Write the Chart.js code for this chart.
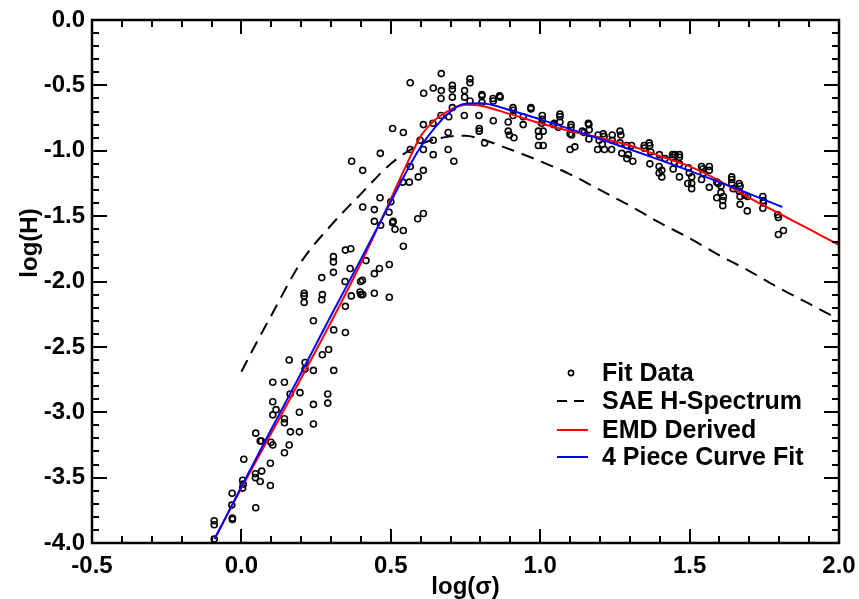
<!DOCTYPE html>
<html>
<head>
<meta charset="utf-8">
<script src="https://cdn.jsdelivr.net/npm/chart.js@4.4.0/dist/chart.umd.min.js"></script>
<style>
  html, body { margin: 0; padding: 0; background: #fff; }
  #wrap { width: 859px; height: 599px; }
</style>
</head>
<body>
<div id="wrap"><canvas id="chart" width="859" height="599"></canvas></div>
<script>
// ---- data (log10 sigma, log10 H) ----
const fitX = [
  -0.091, -0.091, -0.091, -0.030, -0.030, -0.032, -0.031, 0.048, 0.004, 0.004,
  0.006, 0.008, 0.047, 0.047, 0.063, 0.068, 0.097, 0.097, 0.048, 0.063,
  0.067, 0.099, 0.105, 0.144, 0.160, 0.164, 0.194, 0.144, 0.144, 0.105,
  0.116, 0.105, 0.194, 0.241, 0.241, 0.289, 0.289, 0.163, 0.196, 0.105,
  0.144,
  0.160, 0.213, 0.213, 0.241, 0.309, 0.271, 0.292, 0.241, 0.309, 0.348,
  0.348, 0.368, 0.397, 0.400, 0.406, 0.445, 0.495, 0.210, 0.210, 0.210,
  0.271, 0.269, 0.269, 0.308, 0.308, 0.308, 0.348, 0.366, 0.364, 0.347,
  0.399, 0.405, 0.417, 0.445, 0.462, 0.495, 0.542, 0.542, 0.514, 0.506,
  0.508, 0.445, 0.466, 0.494, 0.406, 0.445, 0.500, 0.590, 0.609, 0.464,
  0.669, 0.565, 0.642, 0.669, 0.610, 0.706, 0.706, 0.668, 0.706, 0.765,
  0.765, 0.747, 0.747, 0.805, 0.805, 0.842, 0.843, 0.864, 0.866, 0.909,
  0.805, 0.765, 0.706, 0.668, 0.694, 0.746, 0.795, 0.843, 0.893, 0.909,
  0.609, 0.641, 0.506, 0.542, 0.692, 0.796, 0.796, 0.893, 0.897, 0.912,
  0.642, 0.598, 0.609, 0.565, 0.814, 0.465, 0.642, 0.692, 0.711, 0.565,
  0.609, 0.592, 0.540, 0.562, 0.369, 0.406,
  0.910, 0.943, 0.943, 0.969, 0.969, 1.007, 1.007, 1.005, 0.994, 1.010,
  0.996, 0.994, 1.010, 1.044, 1.047, 1.061, 1.066, 1.066, 1.066, 1.103,
  1.103, 1.100, 1.105, 1.100, 1.116, 1.141, 1.147, 1.161, 1.163, 1.164,
  1.163, 1.194, 1.197, 1.211, 1.214, 1.208, 1.192, 1.215, 1.241, 1.241,
  1.267, 1.270, 1.267, 1.239, 1.273, 1.290, 1.295, 1.290, 1.306, 1.310,
  1.348, 1.365, 1.348, 1.367, 1.370, 1.367, 1.398, 1.398,
  1.399, 1.407, 1.407, 1.418, 1.443, 1.451, 1.466, 1.443, 1.466, 1.449,
  1.466, 1.445, 1.466, 1.496, 1.499, 1.507, 1.494, 1.507, 1.507, 1.540,
  1.544, 1.566, 1.566, 1.546, 1.540, 1.566, 1.591, 1.596, 1.605, 1.605,
  1.613, 1.591, 1.611, 1.611, 1.641, 1.641, 1.641, 1.666, 1.669, 1.646,
  1.666, 1.669, 1.685, 1.694, 1.669, 1.693, 1.745, 1.747, 1.747, 1.745,
  1.795, 1.797, 1.814, 1.797
];
const fitY = [
  -3.97, -3.83, -3.86, -3.81, -3.82, -3.71, -3.62, -3.73, -3.52, -3.58,
  -3.55, -3.36, -3.47, -3.50, -3.53, -3.45, -3.56, -3.39, -3.16, -3.22,
  -3.22, -3.23, -3.25, -3.31, -3.25, -3.15, -3.15, -3.05, -3.08, -3.02,
  -2.98, -2.92, -3.00, -2.94, -3.09, -2.86, -2.93, -2.86, -2.85, -2.77,
  -2.77,
  -2.60, -2.62, -2.67, -2.68, -2.68, -2.56, -2.52, -2.30, -2.37, -2.39,
  -2.19, -2.11, -2.08, -2.10, -2.10, -2.09, -2.12, -2.09, -2.11, -2.16,
  -2.10, -2.14, -1.97, -1.81, -1.85, -1.93, -1.76, -1.75, -1.90, -2.00,
  -2.00, -1.99, -1.84, -1.94, -1.90, -1.87, -1.73, -1.61, -1.60, -1.55,
  -1.54, -1.54, -1.57, -1.47, -1.43, -1.45, -1.39, -1.52, -1.48, -1.36,
  -0.41, -0.48, -0.52, -0.54, -0.56, -0.50, -0.53, -0.60, -0.59, -0.45,
  -0.48, -0.54, -0.59, -0.57, -0.58, -0.60, -0.62, -0.58, -0.59, -0.67,
  -0.63, -0.62, -0.67, -0.73, -0.74, -0.73, -0.73, -0.77, -0.78, -0.73,
  -0.80, -0.79, -0.83, -0.86, -0.86, -0.83, -0.85, -0.85, -0.88, -0.90,
  -0.92, -0.92, -0.99, -0.99, -0.94, -1.02, -1.03, -0.99, -1.08, -1.12,
  -1.15, -1.20, -1.24, -1.24, -1.08, -1.15,
  -0.69, -0.80, -0.74, -0.67, -0.68, -0.73, -0.76, -0.79, -0.85, -0.85,
  -0.89, -0.96, -0.96, -0.80, -0.79, -0.82, -0.72, -0.74, -0.78, -0.80,
  -0.82, -0.87, -0.88, -0.99, -0.97, -0.85, -0.86, -0.79, -0.80, -0.84,
  -0.91, -0.88, -0.92, -0.87, -0.89, -0.95, -0.99, -0.99, -0.88, -0.92,
  -0.85, -0.88, -0.94, -0.99, -1.02, -0.96, -1.03, -1.06, -0.96, -1.08,
  -0.96, -0.94, -0.98, -0.96, -1.01, -1.10, -1.12, -1.17,
  -1.03, -1.15, -1.20, -1.06, -1.03, -1.03, -1.03, -1.05, -1.05, -1.09,
  -1.10, -1.14, -1.20, -1.13, -1.17, -1.20, -1.25, -1.25, -1.29, -1.12,
  -1.14, -1.12, -1.15, -1.17, -1.22, -1.28, -1.24, -1.25, -1.27, -1.32,
  -1.35, -1.36, -1.38, -1.42, -1.20, -1.22, -1.25, -1.25, -1.27, -1.29,
  -1.31, -1.35, -1.34, -1.35, -1.41, -1.46, -1.35, -1.38, -1.40, -1.44,
  -1.49, -1.51, -1.61, -1.64
];

// SAE H-Spectrum (dashed)
const saeX = [0.0, 0.05, 0.1, 0.2, 0.3, 0.4, 0.5, 0.6, 0.7, 0.75, 0.8, 0.9, 1.0,
              1.1, 1.2, 1.3, 1.4, 1.5, 1.6, 1.7, 1.8, 1.9, 2.0];
const saeY = [-2.69, -2.47, -2.26, -1.85, -1.57, -1.33, -1.10, -0.95, -0.89, -0.885, -0.91, -0.99, -1.08,
              -1.18, -1.30, -1.42, -1.55, -1.67, -1.80, -1.92, -2.05, -2.17, -2.29];

// EMD derived (red)
const emdX = [-0.09, 0.0, 0.1, 0.2, 0.3, 0.4, 0.5, 0.55, 0.6, 0.65, 0.7, 0.725, 0.75, 0.8, 0.9,
              1.0, 1.1, 1.2, 1.3, 1.4, 1.5, 1.6, 1.7, 1.8, 1.9, 2.0];
const emdY = [-3.97, -3.58, -3.16, -2.74, -2.31, -1.86, -1.37, -1.12, -0.89, -0.76, -0.685, -0.66, -0.648, -0.655, -0.72,
              -0.79, -0.85, -0.90, -0.96, -1.04, -1.12, -1.23, -1.36, -1.48, -1.60, -1.72];

// 4 piece curve fit (blue)
const cfitX = [-0.09, 0.0, 0.1, 0.2, 0.3, 0.4, 0.5, 0.55, 0.6, 0.65, 0.7, 0.725, 0.75, 0.8, 0.9,
               1.0, 1.2, 1.4, 1.6, 1.81];
const cfitY = [-3.97, -3.57, -3.13, -2.70, -2.26, -1.83, -1.39, -1.17, -0.97, -0.815, -0.70, -0.658, -0.64, -0.637, -0.69,
               -0.76, -0.91, -1.07, -1.24, -1.43];

const xTickValues = [-0.5, 0.0, 0.5, 1.0, 1.5, 2.0];
const yTickValues = [-4.0, -3.5, -3.0, -2.5, -2.0, -1.5, -1.0, -0.5, 0.0];
const legendLabels = ['Fit Data', 'SAE H-Spectrum', 'EMD Derived', '4 Piece Curve Fit'];
const yTitle = 'log(H)';

const toPoints = (xs, ys) => xs.map((x, i) => ({ x: x, y: ys[i] }));

const FONT = '"Liberation Sans", Arial, Helvetica, sans-serif';
Chart.defaults.font.family = FONT;
Chart.defaults.color = '#000';

// frame with inward major/minor ticks on all four sides
const frameTicks = {
  id: 'frameTicks',
  afterDraw(chart) {
    const { ctx, chartArea: a, scales: { x, y } } = chart;
    ctx.save();
    ctx.strokeStyle = '#000';
    ctx.lineWidth = 2;
    ctx.beginPath();
    for (let i = 0; i <= 25; i++) {
      const px = Math.round(x.getPixelForValue(x.min + i * 0.1));
      const len = i % 5 === 0 ? 14 : 7;
      ctx.moveTo(px, a.bottom); ctx.lineTo(px, a.bottom - len);
      ctx.moveTo(px, a.top); ctx.lineTo(px, a.top + len);
    }
    for (let i = 0; i <= 40; i++) {
      const py = Math.round(y.getPixelForValue(y.min + i * 0.1));
      const len = i % 5 === 0 ? 15 : 7;
      ctx.moveTo(a.left, py); ctx.lineTo(a.left + len, py);
      ctx.moveTo(a.right, py); ctx.lineTo(a.right - len, py);
    }
    ctx.stroke();
    ctx.lineWidth = 2.5;
    ctx.strokeRect(a.left, a.top, a.right - a.left, a.bottom - a.top);

    // y axis title
    ctx.font = 'bold 24px ' + FONT;
    ctx.fillStyle = '#000';
    ctx.textAlign = 'center';
    ctx.textBaseline = 'middle';
    ctx.translate(30, 243);
    ctx.rotate(-Math.PI / 2);
    ctx.fillText(yTitle, 0, 0);
    ctx.restore();
  }
};

// legend drawn inside the plot, lower right
const insideLegend = {
  id: 'insideLegend',
  afterDraw(chart) {
    const { ctx } = chart;
    const rows = [373, 401, 430, 457];
    ctx.save();
    ctx.font = 'bold 25px ' + FONT;
    ctx.textBaseline = 'middle';
    ctx.fillStyle = '#000';
    chart.data.datasets.forEach((ds, i) => {
      const yy = rows[i];
      if (i === 0) {
        ctx.beginPath();
        ctx.lineWidth = ds.pointBorderWidth;
        ctx.strokeStyle = ds.pointBorderColor;
        ctx.arc(571, yy, 2.6, 0, Math.PI * 2);
        ctx.stroke();
      } else {
        ctx.beginPath();
        ctx.lineWidth = ds.borderWidth;
        ctx.strokeStyle = ds.borderColor;
        ctx.setLineDash(ds.borderDash ? [10, 7] : []);
        ctx.moveTo(557, yy); ctx.lineTo(588, yy);
        ctx.stroke();
        ctx.setLineDash([]);
      }
      ctx.fillText(legendLabels[i], 602, yy + 1);
    });
    ctx.restore();
  }
};

new Chart(document.getElementById('chart'), {
  type: 'scatter',
  data: {
    datasets: [
      {
        label: legendLabels[0],
        data: toPoints(fitX, fitY),
        showLine: false,
        pointStyle: 'circle',
        pointRadius: 3,
        pointBorderWidth: 1.6,
        pointBorderColor: '#000',
        pointBackgroundColor: 'rgba(0,0,0,0)',
        order: 4
      },
      {
        label: legendLabels[1],
        data: toPoints(saeX, saeY),
        showLine: true,
        borderColor: '#000',
        borderWidth: 2,
        borderDash: [13, 8],
        pointRadius: 0,
        cubicInterpolationMode: 'monotone',
        order: 3
      },
      {
        label: legendLabels[2],
        data: toPoints(emdX, emdY),
        showLine: true,
        borderColor: '#ff0000',
        borderWidth: 2,
        pointRadius: 0,
        cubicInterpolationMode: 'monotone',
        order: 2
      },
      {
        label: legendLabels[3],
        data: toPoints(cfitX, cfitY),
        showLine: true,
        borderColor: '#0000ff',
        borderWidth: 2,
        pointRadius: 0,
        cubicInterpolationMode: 'monotone',
        order: 1
      }
    ]
  },
  options: {
    responsive: false,
    animation: false,
    devicePixelRatio: 1,
    layout: { padding: { left: 0, top: 20, right: 20, bottom: 0 } },
    plugins: { legend: { display: false }, tooltip: { enabled: false } },
    scales: {
      x: {
        type: 'linear',
        min: -0.5,
        max: 2.0,
        grid: { display: false, drawTicks: false },
        border: { display: false },
        afterBuildTicks: s => { s.ticks = xTickValues.map(v => ({ value: v })); },
        afterFit: s => { s.height = 56; s.paddingLeft = 0; s.paddingRight = 0; },
        ticks: {
          padding: 9,
          color: '#000',
          maxRotation: 0,
          font: { size: 24, weight: 'bold' },
          callback: v => Number(v).toFixed(1)
        },
        title: {
          display: true,
          text: 'log(σ)',
          color: '#000',
          font: { size: 24, weight: 'bold', lineHeight: 1 },
          padding: 0
        }
      },
      y: {
        type: 'linear',
        min: -4.0,
        max: 0.0,
        grid: { display: false, drawTicks: false },
        border: { display: false },
        afterBuildTicks: s => { s.ticks = yTickValues.map(v => ({ value: v })); },
        afterFit: s => { s.width = 92; s.paddingTop = 0; s.paddingBottom = 0; },
        ticks: {
          padding: 7,
          color: '#000',
          font: { size: 24, weight: 'bold' },
          callback: v => Number(v).toFixed(1)
        }
      }
    }
  },
  plugins: [frameTicks, insideLegend]
});
</script>
</body>
</html>
